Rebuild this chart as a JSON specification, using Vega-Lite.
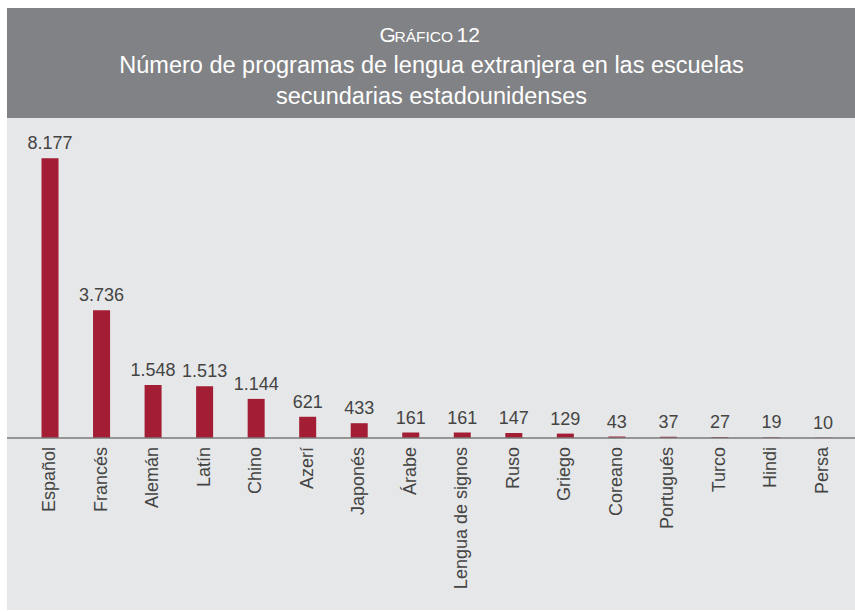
{
  "$schema": "https://vega.github.io/schema/vega-lite/v6.json",
  "background": "white",
  "padding": {"left": 6, "top": 8, "right": 0, "bottom": 2},
  "spacing": 0,
  "config": {
    "view": {"stroke": null},
    "font": "Liberation Sans",
    "locale": {"number": {"decimal": ",", "thousands": ".", "grouping": [3], "currency": ["", ""]}}
  },
  "vconcat": [
    {
      "width": 849,
      "height": 110,
      "view": {"fill": "#818285", "stroke": null},
      "data": {"values": [
        {"row": 1, "piece": "G", "text": "G"},
        {"row": 1, "piece": "RAFICO", "text": "RÁFICO"},
        {"row": 1, "piece": "num", "text": "12"},
        {"row": 2, "piece": "line", "text": "Número de programas de lengua extranjera en las escuelas"},
        {"row": 3, "piece": "line", "text": "secundarias estadounidenses"}
      ]},
      "encoding": {
        "x": {"datum": 0.5, "type": "quantitative", "scale": {"domain": [0, 1]}, "axis": null},
        "y": {"field": "row", "type": "quantitative", "scale": {"domain": [-0.097, 3.451], "reverse": true, "nice": false, "zero": false}, "axis": null},
        "text": {"field": "text"}
      },
      "layer": [
        {"transform": [{"filter": "datum.piece === 'G'"}],
         "mark": {"type": "text", "color": "white", "fontSize": 21, "align": "left", "baseline": "alphabetic", "dx": -52}},
        {"transform": [{"filter": "datum.piece === 'RAFICO'"}],
         "mark": {"type": "text", "color": "white", "fontSize": 15.5, "align": "left", "baseline": "alphabetic", "dx": -37}},
        {"transform": [{"filter": "datum.piece === 'num'"}],
         "mark": {"type": "text", "color": "white", "fontSize": 21, "align": "left", "baseline": "alphabetic", "dx": 25}},
        {"transform": [{"filter": "datum.piece === 'line'"}],
         "mark": {"type": "text", "color": "white", "fontSize": 23.5, "align": "center", "baseline": "alphabetic"}}
      ]
    },
    {
      "width": 849,
      "height": 492,
      "view": {"fill": "#e6e7e8", "stroke": null},
      "data": {"values": [
        {"lengua": "Español", "programas": 8177},
        {"lengua": "Francés", "programas": 3736},
        {"lengua": "Alemán", "programas": 1548},
        {"lengua": "Latín", "programas": 1513},
        {"lengua": "Chino", "programas": 1144},
        {"lengua": "Azerí", "programas": 621},
        {"lengua": "Japonés", "programas": 433},
        {"lengua": "Árabe", "programas": 161},
        {"lengua": "Lengua de signos", "programas": 161},
        {"lengua": "Ruso", "programas": 147},
        {"lengua": "Griego", "programas": 129},
        {"lengua": "Coreano", "programas": 43},
        {"lengua": "Portugués", "programas": 37},
        {"lengua": "Turco", "programas": 27},
        {"lengua": "Hindi", "programas": 19},
        {"lengua": "Persa", "programas": 10}
      ]},
      "layer": [
        {
          "mark": {"type": "bar", "color": "#a31d35"},
          "encoding": {
            "x": {"field": "lengua", "type": "nominal", "sort": null, "scale": {"paddingInner": 0.67, "paddingOuter": 0.5725, "align": 0.585}, "axis": null},
            "y": {"field": "programas", "type": "quantitative", "scale": {"domain": [-5029, 9357], "nice": false, "zero": false}, "axis": null}
          }
        },
        {
          "data": {"values": [{}]},
          "mark": {"type": "rule", "color": "#7a7a7a", "strokeWidth": 1.5},
          "encoding": {"y": {"datum": 0, "type": "quantitative"}}
        },
        {
          "mark": {"type": "text", "color": "#444444", "fontSize": 18, "baseline": "alphabetic", "dy": -9},
          "encoding": {
            "x": {"field": "lengua", "type": "nominal", "sort": null},
            "y": {"field": "programas", "type": "quantitative"},
            "text": {"field": "programas", "type": "quantitative", "format": ",d"}
          }
        },
        {
          "mark": {"type": "text", "color": "#444444", "fontSize": 18, "angle": 270, "align": "right", "baseline": "middle", "dx": -9},
          "encoding": {
            "x": {"field": "lengua", "type": "nominal", "sort": null},
            "y": {"datum": 0, "type": "quantitative"},
            "text": {"field": "lengua", "type": "nominal"}
          }
        }
      ]
    }
  ]
}
